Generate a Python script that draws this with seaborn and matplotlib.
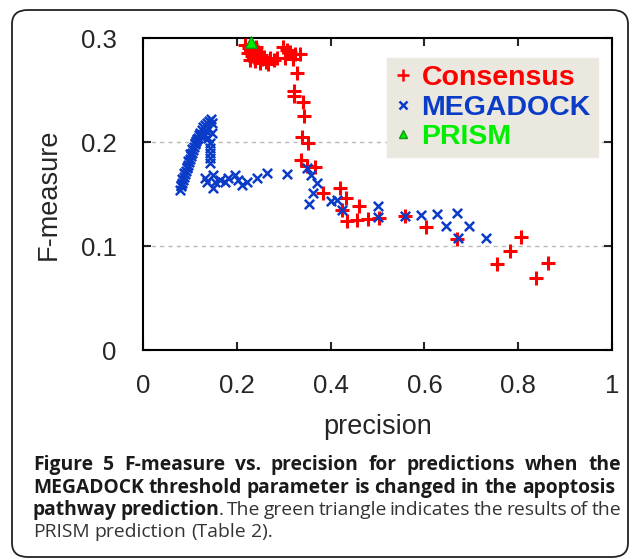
import matplotlib
matplotlib.use('Agg')
import matplotlib.pyplot as plt
import seaborn as sns
from matplotlib.patches import FancyBboxPatch
from matplotlib.lines import Line2D

# Consensus predictions (precision, F-measure)
cons_precision = [0.230, 0.226, 0.235, 0.241, 0.245, 0.224, 0.232, 0.243, 0.252, 0.254,
                  0.239, 0.249, 0.258, 0.262, 0.267, 0.271, 0.279, 0.286, 0.299, 0.307,
                  0.303, 0.313, 0.320, 0.324, 0.335, 0.217, 0.228,
                  0.328, 0.322, 0.322, 0.341, 0.343, 0.339, 0.352, 0.337, 0.350, 0.367,
                  0.384, 0.420, 0.433, 0.424, 0.461, 0.435, 0.456, 0.480, 0.503, 0.559,
                  0.603, 0.670, 0.755, 0.783, 0.806, 0.838, 0.864]
cons_fmeasure = [0.294, 0.290, 0.288, 0.291, 0.287, 0.286, 0.283, 0.282, 0.284, 0.280,
                 0.278, 0.276, 0.282, 0.277, 0.275, 0.281, 0.279, 0.281, 0.291, 0.288,
                 0.281, 0.287, 0.280, 0.285, 0.285, 0.293, 0.279,
                 0.266, 0.249, 0.244, 0.238, 0.225, 0.205, 0.199, 0.183, 0.177, 0.176,
                 0.151, 0.156, 0.146, 0.135, 0.138, 0.124, 0.125, 0.126, 0.127, 0.129,
                 0.118, 0.107, 0.083, 0.095, 0.109, 0.069, 0.084]

# MEGADOCK predictions
mega_precision = [0.079, 0.081, 0.083, 0.085, 0.087, 0.090, 0.092, 0.094, 0.096, 0.098,
                  0.100, 0.102, 0.104, 0.107, 0.109, 0.111, 0.113, 0.117, 0.119, 0.122,
                  0.126, 0.128, 0.132, 0.136, 0.141, 0.145, 0.134, 0.130, 0.139, 0.147,
                  0.080, 0.084, 0.088, 0.093, 0.097, 0.101, 0.105, 0.110, 0.115, 0.124,
                  0.143, 0.143, 0.143, 0.143, 0.143, 0.139, 0.147,
                  0.132, 0.136, 0.149, 0.154, 0.149, 0.164, 0.175, 0.181, 0.196, 0.203,
                  0.211, 0.222, 0.243, 0.264,
                  0.307, 0.350, 0.358, 0.371, 0.362, 0.354, 0.401, 0.414, 0.424, 0.501,
                  0.501, 0.559, 0.593, 0.627, 0.646, 0.670, 0.672, 0.695, 0.731]
mega_fmeasure = [0.154, 0.158, 0.161, 0.163, 0.166, 0.169, 0.172, 0.175, 0.178, 0.181,
                 0.184, 0.187, 0.189, 0.192, 0.195, 0.198, 0.201, 0.204, 0.207, 0.209,
                 0.212, 0.214, 0.216, 0.218, 0.220, 0.222, 0.211, 0.206, 0.213, 0.218,
                 0.159, 0.164, 0.170, 0.176, 0.182, 0.188, 0.193, 0.199, 0.203, 0.206,
                 0.199, 0.194, 0.189, 0.185, 0.180, 0.204, 0.209,
                 0.165, 0.162, 0.168, 0.162, 0.156, 0.163, 0.162, 0.165, 0.168, 0.163,
                 0.159, 0.162, 0.165, 0.170,
                 0.169, 0.175, 0.168, 0.161, 0.151, 0.140, 0.143, 0.144, 0.135, 0.138,
                 0.128, 0.129, 0.130, 0.131, 0.119, 0.132, 0.108, 0.119, 0.108]

# PRISM result
prism_precision = [0.230]
prism_fmeasure = [0.296]

x_ticks = [0, 0.2, 0.4, 0.6, 0.8, 1]
x_ticklabels = ['0', '0.2', '0.4', '0.6', '0.8', '1']
y_ticks = [0, 0.1, 0.2, 0.3]
y_ticklabels = ['0', '0.1', '0.2', '0.3']

RED = '#ff0000'
BLUE = '#0b3cc8'
GREEN = '#00ee00'

sns.set_style('white')
plt.rcParams['font.family'] = ['Liberation Sans', 'DejaVu Sans']

fig = plt.figure(figsize=(6.35, 5.6), dpi=100)

# rounded frame around figure + caption
frame = FancyBboxPatch((12 / 635, 1 - 557 / 560), 616 / 635, 547 / 560,
                       boxstyle='round,pad=0,rounding_size=0.025',
                       transform=fig.transFigure, fill=False,
                       edgecolor='#222222', linewidth=1.3)
fig.patches.append(frame)

ax = fig.add_axes([143 / 635, 1 - 350 / 560, 469 / 635, 312 / 560])

for y in [0.1, 0.2]:
    ax.axhline(y, color='#b8b8b8', linestyle=(0, (3, 3)), linewidth=1.0, zorder=0)

sns.scatterplot(x=cons_precision, y=cons_fmeasure, marker='+', color=RED,
                s=90, linewidth=2.2, ax=ax, zorder=3)
sns.scatterplot(x=mega_precision, y=mega_fmeasure, marker='x', color=BLUE,
                s=45, linewidth=1.8, ax=ax, zorder=4)
sns.scatterplot(x=prism_precision, y=prism_fmeasure, marker='^', color=GREEN,
                edgecolor='#119911', s=70, linewidth=1.0, ax=ax, zorder=5, clip_on=False)

ax.set_xlim(0, 1)
ax.set_ylim(0, 0.3)
ax.set_xticks(x_ticks)
ax.set_xticklabels(x_ticklabels)
ax.set_yticks(y_ticks)
ax.set_yticklabels(y_ticklabels)
ax.tick_params(direction='in', length=6, width=1.5, labelsize=18.5,
               top=True, right=True, bottom=True, left=True)
ax.tick_params(axis='x', pad=17)
ax.tick_params(axis='y', pad=19)
for sp in ax.spines.values():
    sp.set_linewidth(1.5)
    sp.set_color('black')
ax.set_xlabel('precision', fontsize=19.5, labelpad=12)
ax.set_ylabel('F-measure', fontsize=19.5, labelpad=14)

handles = [Line2D([], [], marker='+', color=RED, linestyle='none', markersize=8, markeredgewidth=1.8),
           Line2D([], [], marker='x', color=BLUE, linestyle='none', markersize=5.5, markeredgewidth=1.8),
           Line2D([], [], marker='^', color=GREEN, markeredgecolor='#119911', linestyle='none', markersize=5.5)]
leg = ax.legend(handles, ['Consensus', 'MEGADOCK', 'PRISM'], loc='upper right',
                bbox_to_anchor=(0.970, 0.936), borderaxespad=0, frameon=True, fancybox=False,
                prop={'weight': 'bold', 'size': 20.5}, handlelength=0.6, handletextpad=0.35,
                labelspacing=0.12, borderpad=0.25)
leg.get_frame().set_facecolor('#ebe9df')
leg.get_frame().set_edgecolor('#ebe9df')
leg.get_frame().set_alpha(1)
for txt, c in zip(leg.get_texts(), [RED, BLUE, GREEN]):
    txt.set_color(c)

# caption: justified lines, words placed one by one (bold / normal runs)
cap_font = ['Open Sans', 'DejaVu Sans']
cap_size = 13.9
caption_lines = [
    ([('Figure 5 F-measure vs. precision for predictions when the', 'bold')], 621),
    ([('MEGADOCK threshold parameter is changed in the apoptosis', 'bold')], 615),
    ([('pathway prediction', 'bold'), ('. The green triangle indicates the results of the', 'normal')], 621),
    ([('PRISM prediction (Table 2).', 'normal')], None),
]
baselines = [470, 493, 515, 537]
renderer = fig.canvas.get_renderer()
W = fig.bbox.width
for (runs, right), yb in zip(caption_lines, baselines):
    yf = 1 - yb / 560
    # split into words; punctuation glued to the previous word
    words = []
    for text, wt in runs:
        parts = text.split(' ')
        for i, p in enumerate(parts):
            if p == '':
                continue
            glue = (i == 0 and words and not text.startswith(' ') and p[0] in '.,')
            words.append([p, wt, glue])
    objs = []
    for w, wt, glue in words:
        t = fig.text(0, yf, w, family=cap_font, weight=wt, size=cap_size,
                     color='#1a1a1a' if wt == 'bold' else '#333333', va='baseline')
        objs.append((t, t.get_window_extent(renderer).width, glue))
    space = fig.text(0, 0, 'a b', family=cap_font, size=cap_size).get_window_extent(renderer).width \
        - fig.text(0, 0, 'ab', family=cap_font, size=cap_size).get_window_extent(renderer).width
    for t in fig.texts[-2:]:
        t.remove()
    n_gaps = sum(1 for o in objs[1:] if not o[2])
    total = sum(o[1] for o in objs)
    if right is not None and n_gaps:
        gap = (right - 33 - total) / n_gaps
    else:
        gap = space
    x = 33.0
    for i, (t, w, glue) in enumerate(objs):
        if i > 0 and not glue:
            x += gap
        t.set_x(x / W)
        x += w

fig.savefig('out.png', dpi=100)
